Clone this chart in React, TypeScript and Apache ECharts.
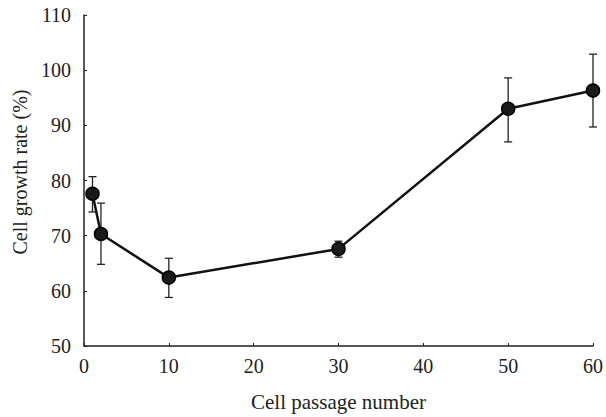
import React, { useEffect, useRef } from "react";
import * as echarts from "echarts";

const passages = [1, 2, 10, 30, 50, 60];
const growthRate = [77.6, 70.3, 62.4, 67.6, 93.0, 96.3];
const errUpper = [80.7, 75.9, 65.9, 69.0, 98.6, 102.9];
const errLower = [74.3, 64.8, 58.8, 66.1, 87.0, 89.7];

const xTitle = "Cell passage number";
const yTitle = "Cell growth rate (%)";

export default function App() {
  const ref = useRef<HTMLDivElement>(null);
  useEffect(() => {
    if (!ref.current) return;
    const chart = echarts.init(ref.current, null, { renderer: "svg" });
    const font = "'Liberation Serif', 'Times New Roman', serif";
    const lineData = passages.map((x, i) => [x, growthRate[i]]);
    const errData = passages.map((x, i) => [x, errLower[i], errUpper[i]]);
    chart.setOption({
      animation: false,
      backgroundColor: "#ffffff",
      grid: { left: 84, right: 11, top: 15, bottom: 66, containLabel: false },
      graphic: [
        {
          type: "text",
          x: 20,
          y: 172,
          rotation: Math.PI / 2,
          style: {
            text: yTitle,
            fontFamily: font,
            fontSize: 20,
            fill: "#222",
            align: "center",
            verticalAlign: "middle",
          },
        },
      ],
      xAxis: {
        type: "value",
        min: 0,
        max: 60,
        interval: 10,
        name: xTitle,
        nameLocation: "middle",
        nameGap: 45,
        nameTextStyle: { fontFamily: font, fontSize: 21, color: "#222" },
        axisLine: { show: true, onZero: false, lineStyle: { color: "#222", width: 1.5 } },
        axisTick: { show: true, inside: true, length: 3, lineStyle: { color: "#222", width: 1 } },
        axisLabel: { fontFamily: font, fontSize: 20, color: "#222", margin: 10 },
        splitLine: { show: false },
      },
      yAxis: {
        type: "value",
        min: 50,
        max: 110,
        interval: 10,
        axisLine: { show: true, onZero: false, lineStyle: { color: "#222", width: 1.5 } },
        axisTick: { show: true, inside: true, length: 3, lineStyle: { color: "#222", width: 1 } },
        axisLabel: { fontFamily: font, fontSize: 20, color: "#222", margin: 13 },
        splitLine: { show: false },
      },
      series: [
        {
          type: "custom",
          data: errData,
          z: 1,
          renderItem: (params: any, api: any) => {
            const x = api.value(0);
            const lo = api.coord([x, api.value(1)]);
            const hi = api.coord([x, api.value(2)]);
            const cap = 4;
            const style = { stroke: "#222", lineWidth: 1.3 };
            return {
              type: "group",
              children: [
                { type: "line", shape: { x1: lo[0], y1: lo[1], x2: hi[0], y2: hi[1] }, style },
                { type: "line", shape: { x1: hi[0] - cap, y1: hi[1], x2: hi[0] + cap, y2: hi[1] }, style },
                { type: "line", shape: { x1: lo[0] - cap, y1: lo[1], x2: lo[0] + cap, y2: lo[1] }, style },
              ],
            };
          },
        },
        {
          type: "line",
          data: lineData,
          z: 2,
          symbol: "circle",
          symbolSize: 13,
          lineStyle: { color: "#111", width: 2.5 },
          itemStyle: { color: "#1a1a1a", borderColor: "#000", borderWidth: 1.5 },
        },
      ],
    });
    return () => chart.dispose();
  }, []);
  return <div ref={ref} style={{ width: 606, height: 417, position: "absolute", left: 0, top: 0 }} />;
}
